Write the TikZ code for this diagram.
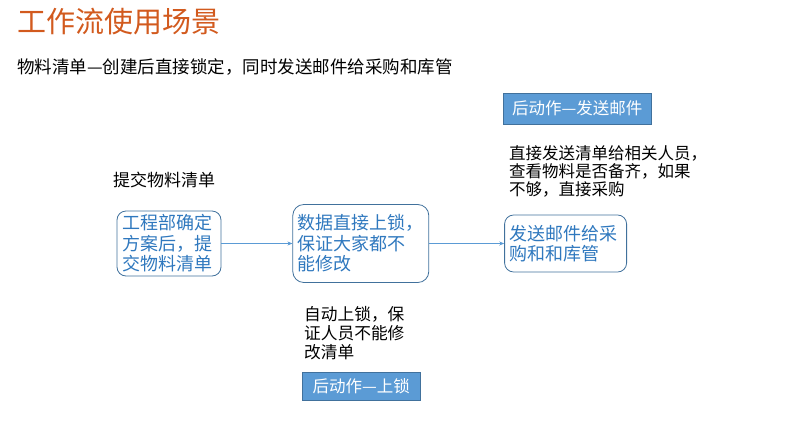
\documentclass[tikz,border=0pt]{standalone}
\usepackage{fontspec}
\setmainfont{Noto Sans CJK SC}
\usepackage{tikz}
\usetikzlibrary{arrows.meta, positioning}
\definecolor{floworange}{HTML}{D25A1E}
\definecolor{flowline}{HTML}{41719C}
\definecolor{flowtext}{HTML}{2F78BE}
\definecolor{flowfill}{HTML}{5B9BD5}

\begin{document}
\begin{tikzpicture}[
   x=1pt, y=-1pt,
   box/.style={rectangle, rounded corners=9pt, draw=flowline, thick,
               text=flowtext, align=left, inner xsep=5pt, inner ysep=0pt,
               font={\fontsize{18}{20.5}\selectfont}},
   tag/.style={rectangle, draw=flowline, fill=flowfill, text=white,
               inner xsep=6pt, inner ysep=0pt, anchor=north west,
               font={\fontsize{16.5}{18}\selectfont}},
   note/.style={anchor=north west, align=left, inner sep=0pt,
                font={\fontsize{16.5}{18}\selectfont}},
   arr/.style={-{Stealth[length=5pt, width=4pt]}, flowfill, semithick}]
 \useasboundingbox (0,0) rectangle (804,437);
 \node[anchor=west, inner sep=0pt, text=floworange,
       font={\fontsize{29}{30}\selectfont}] (title) at (17,22) {工作流使用场景};
 \node[anchor=west, inner sep=0pt,
       font={\fontsize{17.5}{19}\selectfont}] (sub) at (17,67)
   {物料清单—创建后直接锁定，同时发送邮件给采购和库管};
 \node[box, text width=94pt, minimum height=65pt] (eng) at (169,243.5)
   {工程部确定\\方案后，提\\交物料清单};
 \node[box, right=71pt of eng, text width=126pt, minimum height=78pt,
       rounded corners=11pt] (lock) {数据直接上锁，\\保证大家都不\\能修改};
 \node[box, right=75pt of lock, text width=112pt, minimum height=57pt] (mail)
   {发送邮件给采\\购和和库管};
 \node[note, anchor=west, font={\fontsize{17}{19}\selectfont}] (submit)
   at (113,180) {提交物料清单};
 \node[note, font={\fontsize{16.5}{18}\selectfont}] (mailnote) at (509,145)
   {直接发送清单给相关人员，\\查看物料是否备齐，如果\\不够，直接采购};
 \node[note, font={\fontsize{16.7}{19}\selectfont}] (locknote) at (304,306)
   {自动上锁，保\\证人员不能修\\改清单};
 \node[tag, minimum width=148pt, minimum height=31pt] (mailtag) at (503,93)
   {后动作—发送邮件};
 \node[tag, minimum width=118pt, minimum height=28pt] (locktag) at (302,372)
   {后动作—上锁};
 \draw[arr] (eng)  -- (lock);
 \draw[arr] (lock) -- (mail);
\end{tikzpicture}
\end{document}
